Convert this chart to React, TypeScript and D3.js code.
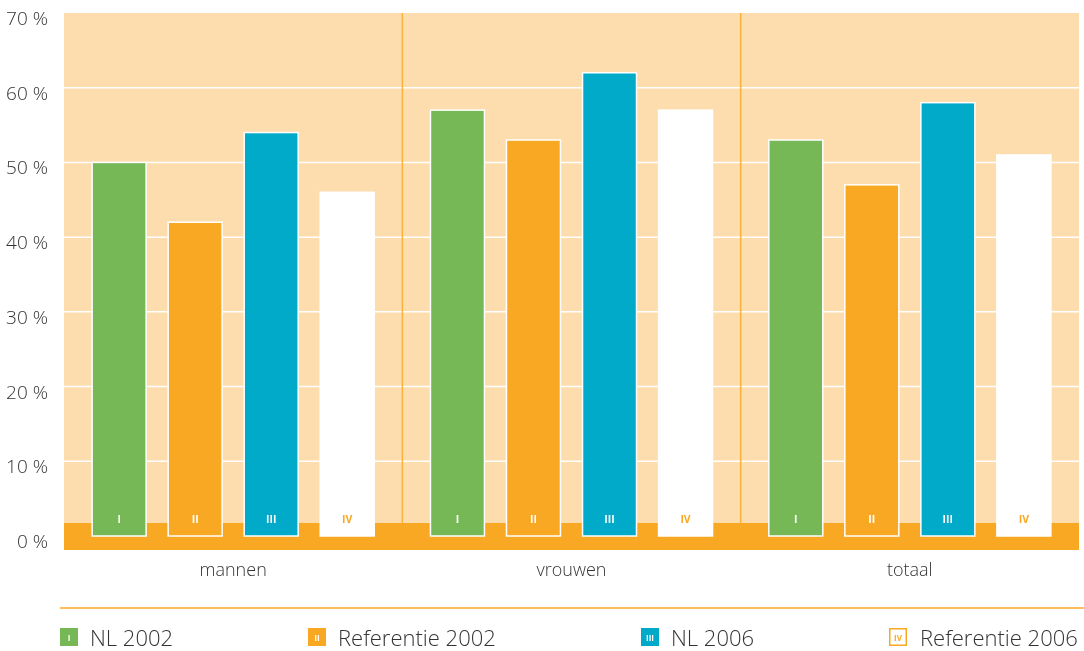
import * as d3 from "d3"

const categories = ["mannen", "vrouwen", "totaal"]
const seriesNames = ["NL 2002", "Referentie 2002", "NL 2006", "Referentie 2006"]
const seriesCodes = ["I", "II", "III", "IV"]
const nl2002 = [50, 57, 53]
const ref2002 = [42, 53, 47]
const nl2006 = [54, 62, 58]
const ref2006 = [46, 57, 51]
const yTicks = [0, 10, 20, 30, 40, 50, 60, 70]

const seriesValues = [nl2002, ref2002, nl2006, ref2006]
const fills = ["#76b856", "#f8a823", "#00aac8", "#ffffff"]
const codeColors = ["#ffffff", "#ffffff", "#ffffff", "#f8a823"]

const W = 1084
const H = 651
const left = 64
const right = 1079
const top = 13
const bandTop = 523
const bandBottom = 550
const font = "'Open Sans', 'Noto Sans', sans-serif"

export default function App() {
  const y = d3.scaleLinear().domain([0, 70]).range([536, top])
  const x0 = d3.scaleBand<string>().domain(categories).range([left, right])
  const x1 = d3
    .scaleBand<number>()
    .domain([0, 1, 2, 3])
    .range([0, x0.bandwidth()])
    .paddingInner(0.29)
    .paddingOuter(0.37)

  const legendX = [60, 308, 641, 889]

  return (
    <div style={{ position: "fixed", left: 0, top: 0 }}>
      <svg width={W} height={H} style={{ display: "block" }}>
        {/* plot background */}
        <rect x={left} y={top} width={right - left} height={bandTop - top} fill="#fddcad" />
        {/* gridlines */}
        {yTicks
          .filter((t) => t > 0 && t < 70)
          .map((t) => (
            <line key={t} x1={left} x2={right} y1={y(t)} y2={y(t)} stroke="#ffffff" strokeWidth={1.5} />
          ))}
        {/* group separators */}
        {categories.slice(1).map((c) => (
          <line
            key={c}
            x1={x0(c)}
            x2={x0(c)}
            y1={top}
            y2={bandTop}
            stroke="#f9b23c"
            strokeWidth={1.5}
          />
        ))}
        {/* orange base band */}
        <rect x={left} y={bandTop} width={right - left} height={bandBottom - bandTop} fill="#f8a823" />
        {/* bars */}
        {categories.map((c, ci) => (
          <g key={c} transform={`translate(${x0(c)},0)`}>
            {seriesValues.map((vals, si) => {
              const bx = x1(si) as number
              const bw = x1.bandwidth()
              return (
                <g key={si}>
                  <rect
                    x={bx}
                    y={y(vals[ci])}
                    width={bw}
                    height={y(0) - y(vals[ci])}
                    fill={fills[si]}
                    stroke="#ffffff"
                    strokeWidth={1.5}
                  />
                  <text
                    x={bx + bw / 2}
                    y={523}
                    textAnchor="middle"
                    fontFamily={font}
                    fontSize={10.5}
                    fontWeight="bold"
                    fill={codeColors[si]}
                  >
                    {seriesCodes[si]}
                  </text>
                </g>
              )
            })}
            <text
              x={x0.bandwidth() / 2}
              y={576}
              textAnchor="middle"
              fontFamily={font}
              fontSize={18}
              fontWeight={300}
              fill="#333333"
            >
              {c}
            </text>
          </g>
        ))}
        {/* y axis labels */}
        {yTicks.map((t) => (
          <text
            key={t}
            x={48}
            y={y(t) + 12}
            textAnchor="end"
            fontFamily={font}
            fontSize={19}
            fontWeight={300}
            fill="#333333"
          >
            {`${t} %`}
          </text>
        ))}
        {/* legend rule */}
        <line x1={60} x2={W} y1={608} y2={608} stroke="#f8a823" strokeWidth={1.5} />
        {/* legend */}
        {seriesNames.map((name, i) => (
          <g key={name} transform={`translate(${legendX[i]},628)`}>
            {i === 3 ? (
              <rect x={0.75} y={0.75} width={16.5} height={16.5} fill="#ffffff" stroke="#f8a823" strokeWidth={1.5} />
            ) : (
              <rect x={0} y={0} width={18} height={18} fill={fills[i]} />
            )}
            <text x={9} y={12.5} textAnchor="middle" fontFamily={font} fontSize={8} fontWeight="bold" fill={codeColors[i]}>
              {seriesCodes[i]}
            </text>
            <text x={i === 3 ? 31 : 30} y={18} fontFamily={font} fontSize={22} fontWeight={300} fill="#333333">
              {name}
            </text>
          </g>
        ))}
      </svg>
    </div>
  )
}
